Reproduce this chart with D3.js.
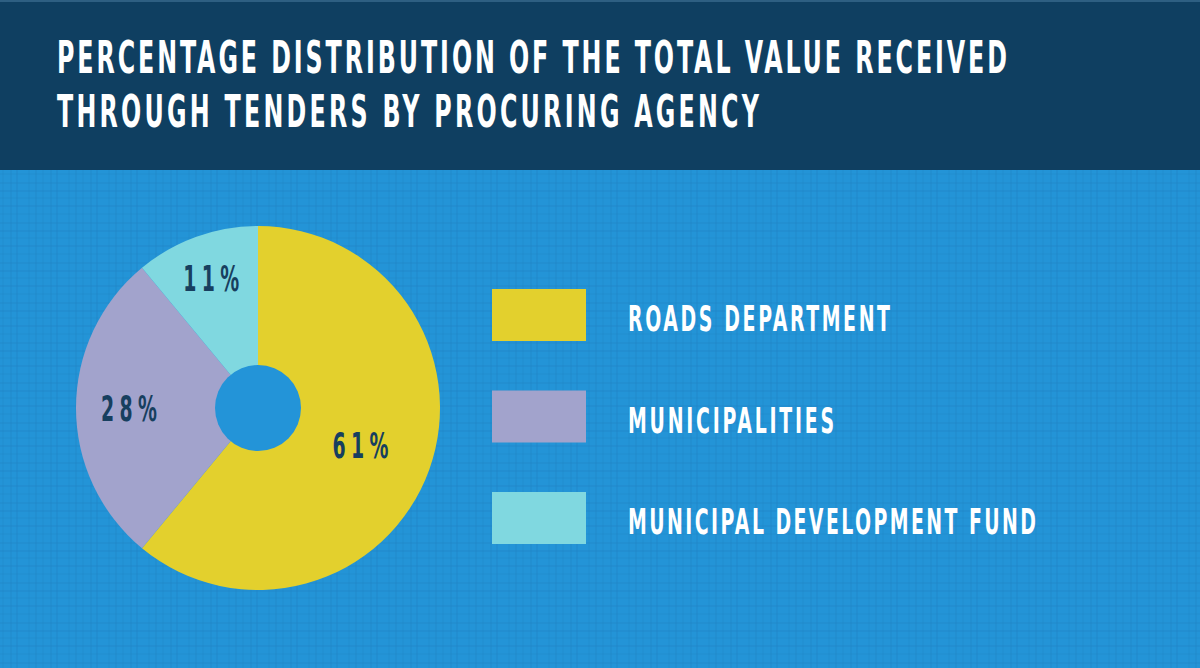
<!DOCTYPE html>
<html>
<head>
<meta charset="utf-8">
<script src="https://cdn.jsdelivr.net/npm/d3@7/dist/d3.min.js"></script>
<style>
  html, body { margin: 0; padding: 0; background: #2394d7; }
  svg { display: block; }
  text { font-family: "DejaVu Sans Condensed", "DejaVu Sans", "Roboto", sans-serif; font-weight: bold; }
</style>
</head>
<body>
<svg id="chart" width="1200" height="668"></svg>
<script>
// ---- data ----
const titleLines = [
  "PERCENTAGE DISTRIBUTION OF THE TOTAL VALUE RECEIVED",
  "THROUGH TENDERS BY PROCURING AGENCY"
];
const categories = ["ROADS DEPARTMENT", "MUNICIPALITIES", "MUNICIPAL DEVELOPMENT FUND"];
const values = [61, 28, 11];
const colors = ["#e3d02d", "#a2a3cc", "#80d8e0"];

// ---- layout ----
const W = 1200, H = 668;
const SX = 0.6; // horizontal condensing of glyphs
const svg = d3.select("#chart");

// texture pattern
const defs = svg.append("defs");
const pat = defs.append("pattern").attr("id", "tex").attr("patternUnits", "userSpaceOnUse")
  .attr("width", 40).attr("height", 40);
pat.append("rect").attr("width", 40).attr("height", 40).attr("fill", "#2394d7");
const lineSpecs = [[3,"v"],[11,"v"],[17,"v"],[29,"v"],[36,"v"],[6,"h"],[14,"h"],[23,"h"],[31,"h"],[38,"h"]];
lineSpecs.forEach(([p, o], i) => {
  pat.append("line")
    .attr("x1", o === "v" ? p : 0).attr("x2", o === "v" ? p : 40)
    .attr("y1", o === "v" ? 0 : p).attr("y2", o === "v" ? 40 : p)
    .attr("stroke", "#1b7fc0").attr("stroke-width", 1).attr("opacity", 0.35 + (i % 3) * 0.12);
});

svg.append("rect").attr("width", W).attr("height", H).attr("fill", "url(#tex)");

// header band
svg.append("rect").attr("x", 0).attr("y", 0).attr("width", W).attr("height", 170).attr("fill", "#0f3f61");
svg.append("rect").attr("x", 0).attr("y", 0).attr("width", W).attr("height", 2).attr("fill", "#2e5f82");

function condensed(sel, width) {
  sel.attr("textLength", width / SX).attr("lengthAdjust", "spacing");
}

const titleWidths = [950, 702];
svg.selectAll("text.title").data(titleLines).join("text")
  .attr("class", "title")
  .attr("transform", (d, i) => `translate(57,${73 + i * 54}) scale(${SX},1)`)
  .attr("font-size", 44)
  .attr("fill", "#ffffff")
  .text(d => d)
  .each(function(d, i) { condensed(d3.select(this), titleWidths[i]); });

// pie
const cx = 258, cy = 408, R = 182, r0 = 43;
const pie = d3.pie().sort(null).value(d => d);
const arcs = pie(values);
const arc = d3.arc().innerRadius(0).outerRadius(R);
const g = svg.append("g").attr("transform", `translate(${cx},${cy})`);
g.selectAll("path").data(arcs).join("path")
  .attr("d", arc)
  .attr("fill", (d, i) => colors[i]);
g.append("circle").attr("r", r0).attr("fill", "#2394d8");

const labelRadius = [109, 129, 138];
g.selectAll("text.pct").data(arcs).join("text")
  .attr("class", "pct")
  .attr("transform", (d, i) => {
    const a = (d.startAngle + d.endAngle) / 2;
    const rr = labelRadius[i];
    return `translate(${Math.sin(a) * rr},${-Math.cos(a) * rr + 13}) scale(${SX},1)`;
  })
  .attr("text-anchor", "middle")
  .attr("font-size", 35)
  .attr("fill", "#173f5f")
  .text(d => d.data + "%")
  .each(function() { condensed(d3.select(this), 56); });

// legend
const y = d3.scalePoint().domain(categories).range([315, 518]);
const legendWidths = [262, 206, 408];
const lg = svg.append("g");
lg.selectAll("rect").data(categories).join("rect")
  .attr("x", 492).attr("y", d => y(d) - 26)
  .attr("width", 94).attr("height", 52)
  .attr("fill", (d, i) => colors[i]);
lg.selectAll("text").data(categories).join("text")
  .attr("transform", d => `translate(628,${y(d) + 16}) scale(${SX},1)`)
  .attr("font-size", 35)
  .attr("fill", "#ffffff")
  .text(d => d)
  .each(function(d, i) { condensed(d3.select(this), legendWidths[i]); });
</script>
</body>
</html>
